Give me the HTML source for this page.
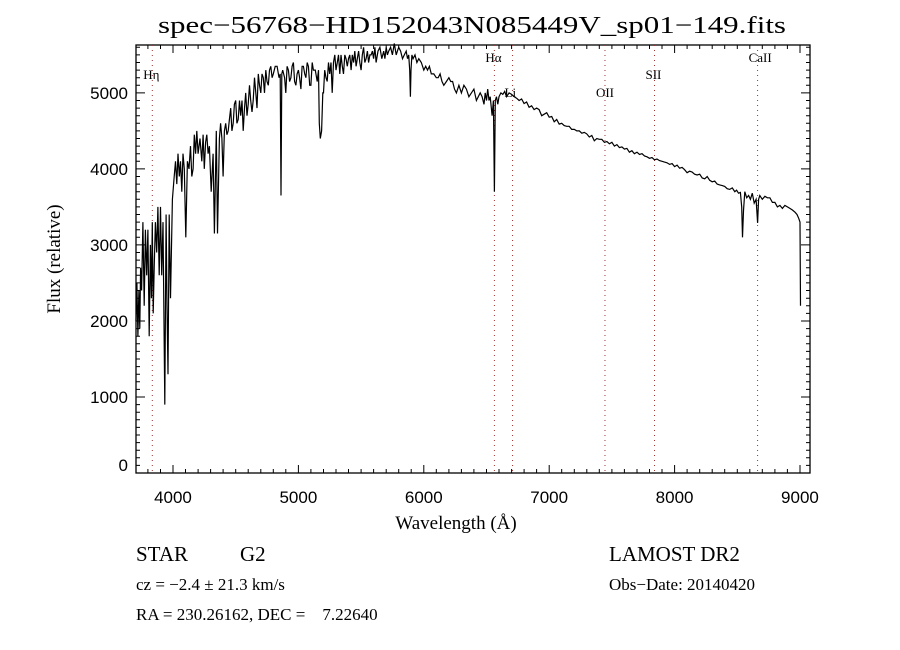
<!DOCTYPE html>
<html><head><meta charset="utf-8"><style>
html,body{margin:0;padding:0;background:#fff;}
svg{display:block;}
text{font-family:"Liberation Serif",serif;fill:#000;}
.tk{font-family:"Liberation Sans",sans-serif;font-size:17px;}
</style></head><body>
<svg id="chart" width="900" height="650" viewBox="0 0 900 650">
<text x="472" y="33" font-size="24" text-anchor="middle" textLength="628" lengthAdjust="spacingAndGlyphs">spec−56768−HD152043N085449V_sp01−149.fits</text>
<g id="axes"></g>
<g id="lines"></g>
<g id="spec"></g>
<text x="456" y="529" font-size="19" text-anchor="middle">Wavelength (Å)</text>
<text transform="translate(60,259) rotate(-90)" font-size="19" text-anchor="middle">Flux (relative)</text>
<text x="136" y="561" font-size="21">STAR</text>
<text x="240" y="561" font-size="21">G2</text>
<text x="136" y="590" font-size="17">cz = −2.4 ± 21.3 km/s</text>
<text x="136" y="620" font-size="17">RA = 230.26162, DEC =&#160;&#160;&#160;&#160;7.22640</text>
<text x="609" y="561" font-size="21">LAMOST DR2</text>
<text x="609" y="590" font-size="17">Obs−Date: 20140420</text>
</svg>
<script>
// spectrum samples: [wavelength (Å), flux]
const spectrum=[
[3705,2000],[3712,2500],[3720,1800],[3728,2400],[3735,1900],[3742,2700],[3750,2400],[3760,3300],[3770,2200],[3780,3200],
[3790,2600],[3800,3200],[3810,1800],[3820,3000],[3828,2300],[3835,3300],[3842,2100],[3850,2700],[3860,3300],[3870,2900],
[3880,3500],[3890,2600],[3900,3500],[3910,2600],[3920,3300],[3935,900],[3945,3400],[3952,2200],[3960,1300],[3970,3400],
[3980,2300],[3995,3600],[4010,3900],[4020,4100],[4030,3800],[4040,4200],[4050,3900],[4060,4100],[4070,3700],[4080,4200],
[4090,4000],[4102,3100],[4115,4100],[4128,4000],[4140,4300],[4150,3900],[4160,4000],[4170,4450],[4180,4200],[4190,4500],
[4200,4200],[4215,4400],[4230,4100],[4240,4450],[4250,4000],[4260,4350],[4270,4450],[4280,4200],[4290,4300],[4305,3700],
[4320,4200],[4330,3150],[4345,4500],[4355,3150],[4370,4400],[4380,4600],[4390,4400],[4400,3900],[4410,4500],[4420,4600],
[4430,4450],[4440,4500],[4450,4650],[4460,4800],[4470,4500],[4480,4600],[4490,4850],[4500,4900],[4510,4600],[4520,4650],
[4530,4900],[4540,4700],[4550,4900],[4560,4500],[4570,4800],[4580,5000],[4590,4700],[4600,4850],[4610,5100],[4620,4900],
[4630,4750],[4640,4900],[4650,5200],[4660,5000],[4670,4800],[4680,5250],[4690,5100],[4700,5000],[4710,5250],[4720,5200],
[4730,5000],[4740,5300],[4750,5150],[4760,5100],[4770,5300],[4780,5350],[4790,5200],[4800,5250],[4815,5350],[4830,5350],
[4845,5200],[4855,5250],[4861,3650],[4868,5250],[4875,5300],[4890,5200],[4900,5000],[4910,5350],[4920,5300],[4930,5150],
[4940,5200],[4950,5350],[4960,5400],[4970,5150],[4980,5100],[4990,5250],[5000,5300],[5010,5200],[5020,5050],[5030,5350],
[5040,5350],[5050,5250],[5060,5200],[5070,5400],[5080,5350],[5090,5100],[5100,5100],[5110,5400],[5120,5300],[5135,5300],
[5150,5150],[5160,5300],[5167,4600],[5175,4400],[5185,4500],[5195,5000],[5200,5000],[5210,5300],[5220,5200],[5230,5150],
[5240,5400],[5250,5250],[5260,5400],[5270,5000],[5280,5400],[5290,5500],[5300,5300],[5310,5400],[5320,5500],[5330,5250],
[5340,5500],[5350,5350],[5360,5250],[5370,5500],[5380,5450],[5390,5350],[5400,5450],[5410,5500],[5420,5300],[5430,5500],
[5440,5400],[5450,5550],[5460,5350],[5470,5450],[5480,5550],[5490,5400],[5500,5300],[5510,5500],[5520,5600],[5530,5400],
[5540,5450],[5550,5550],[5560,5400],[5570,5500],[5580,5500],[5590,5550],[5600,5450],[5610,5600],[5620,5400],[5635,5550],
[5650,5600],[5665,5450],[5680,5550],[5690,5450],[5700,5600],[5710,5500],[5720,5550],[5735,5600],[5750,5500],[5765,5650],
[5780,5500],[5790,5550],[5800,5600],[5815,5550],[5830,5450],[5845,5500],[5860,5550],[5870,5450],[5880,5500],[5888,5300],
[5893,4950],[5898,5300],[5905,5500],[5915,5450],[5930,5500],[5945,5400],[5960,5450],[5980,5400],[6000,5300],[6015,5350],
[6030,5300],[6045,5350],[6060,5250],[6080,5250],[6100,5200],[6115,5200],[6130,5250],[6145,5150],[6160,5100],[6180,5150],
[6200,5200],[6215,5150],[6230,5150],[6245,5050],[6260,5000],[6280,5100],[6300,5000],[6320,5100],[6340,5050],[6360,4950],
[6380,5000],[6400,5050],[6420,4900],[6435,4950],[6450,5000],[6465,4950],[6480,4850],[6490,5000],[6500,4900],[6510,5050],
[6520,4900],[6530,4950],[6545,4700],[6555,4900],[6563,3700],[6570,4900],[6580,4950],[6590,4850],[6600,4950],[6615,5000],
[6630,4980],[6645,5020],[6660,4950],[6680,5000],[6700,4980],[6720,4950],[6740,4930],[6760,4900],[6780,4920],[6800,4860],
[6820,4880],[6840,4810],[6860,4830],[6880,4780],[6900,4800],[6920,4780],[6940,4700],[6960,4720],[6980,4740],[7000,4680],
[7020,4690],[7040,4620],[7060,4650],[7080,4590],[7100,4600],[7120,4570],[7140,4560],[7160,4560],[7180,4520],[7200,4520],
[7220,4500],[7240,4500],[7260,4470],[7280,4480],[7300,4460],[7320,4420],[7340,4440],[7360,4370],[7380,4400],[7400,4390],
[7420,4390],[7440,4350],[7460,4360],[7480,4330],[7500,4350],[7520,4300],[7540,4320],[7560,4280],[7580,4290],[7600,4260],
[7620,4270],[7640,4220],[7660,4240],[7680,4200],[7700,4220],[7720,4190],[7740,4200],[7760,4170],[7780,4160],[7800,4140],
[7820,4150],[7840,4120],[7860,4130],[7880,4110],[7900,4100],[7920,4090],[7940,4080],[7960,4060],[7980,4070],[8000,4030],
[8020,4050],[8040,4010],[8060,4020],[8080,3990],[8100,3950],[8120,3970],[8140,3960],[8160,3930],[8180,3920],[8200,3930],
[8220,3880],[8240,3870],[8260,3900],[8280,3850],[8300,3830],[8320,3840],[8340,3800],[8360,3790],[8380,3780],[8400,3770],
[8420,3740],[8440,3730],[8460,3750],[8480,3700],[8495,3720],[8510,3680],[8525,3690],[8535,3500],[8542,3100],[8550,3450],
[8560,3700],[8575,3620],[8590,3650],[8605,3600],[8620,3680],[8635,3550],[8650,3600],[8662,3290],[8670,3600],[8680,3650],
[8700,3600],[8720,3640],[8740,3620],[8760,3620],[8780,3560],[8800,3560],[8820,3500],[8840,3520],[8860,3480],[8880,3520],
[8900,3500],[8920,3480],[8940,3460],[8960,3430],[8976,3400],[8990,3350],[9000,3300],[9004,2200]
];
const wave=spectrum.map(p=>p[0]);
const flux=spectrum.map(p=>p[1]);
const xTicks=[4000,5000,6000,7000,8000,9000];
const yTicks=[0,1000,2000,3000,4000,5000];
const lineNames=["Hη","Hα","Li","OII","SII","CaII"];
const lineWaves=[3835,6563,6708,7445,7840,8662];
const lineLabelY=[79,62,97,97,79,62];

const X0=136,X1=810,Y0=473,Y1=45,XMIN=3705,XMAX=9080,YMIN=0,YMAX=5630;
const sx=w=>X0+(w-XMIN)/(XMAX-XMIN)*(X1-X0);
const sy=f=>Y0-(f-YMIN)/(YMAX-YMIN)*(Y0-Y1);
const NS="http://www.w3.org/2000/svg";
function mk(tag,attrs,parent){const e=document.createElementNS(NS,tag);for(const k in attrs)e.setAttribute(k,attrs[k]);parent.appendChild(e);return e;}
const axes=document.getElementById('axes');
const frame=mk('rect',{x:X0,y:Y1,width:X1-X0,height:Y0-Y1,fill:'none',stroke:'#000','stroke-width':1.3},axes);


let d='';
for(let w=3800;w<=XMAX;w+=100){const x=sx(w).toFixed(1);const L=(w%1000===0)?8:4;d+=`M${x} ${Y0}V${Y0-L}M${x} ${Y1}V${Y1+L}`;}
for(let f=0;f<=YMAX;f+=100){const y=sy(f).toFixed(1);const L=(f%1000===0)?9:4;d+=`M${X0} ${y}H${X0+L}M${X1} ${y}H${X1-L}`;}
const tp=mk('path',{d:d,stroke:'#000','stroke-width':1,fill:'none'},axes);


xTicks.forEach(v=>{const t=mk('text',{x:sx(v),y:503,'text-anchor':'middle',class:'tk'},axes);t.textContent=v;

});
yTicks.forEach(v=>{const t=mk('text',{x:X0-8,y:Math.min(sy(v)+6,471),'text-anchor':'end',class:'tk'},axes);t.textContent=v;

});
const lg=document.getElementById('lines');
lineWaves.forEach((w,i)=>{const x=sx(w);
const l=mk('line',{x1:x,x2:x,y1:Y1,y2:Y0,stroke:'#a03030','stroke-width':1,'stroke-dasharray':'1,4'},lg);


const t=mk('text',{x:x-9,y:lineLabelY[i],'font-size':13},lg);t.textContent=lineNames[i];
if(i===2){t.setAttribute('x',x-8);}

});
let p='';wave.forEach((w,i)=>{p+=(i?'L':'M')+sx(w).toFixed(1)+' '+sy(flux[i]).toFixed(1);});
const sp=mk('path',{d:p,fill:'none',stroke:'#000','stroke-width':1.2,'stroke-linejoin':'miter'},document.getElementById('spec'));


</script>
</body></html>
